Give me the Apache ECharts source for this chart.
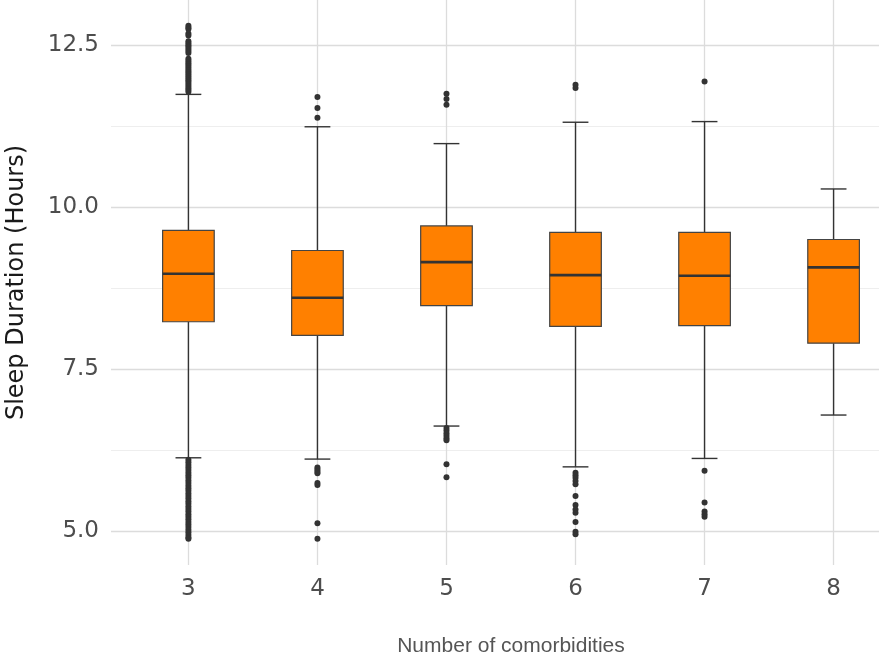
<!DOCTYPE html>
<html>
<head>
<meta charset="utf-8">
<script src="https://cdn.jsdelivr.net/npm/echarts@6/dist/echarts.min.js"></script>
<style>
html,body{margin:0;padding:0;background:#fff;}
#chart{width:879px;height:659px;}
</style>
</head>
<body>
<div id="chart"></div>
<script>
// ---- data ----
const categories = [3, 4, 5, 6, 7, 8];
const whiskerLow  = [6.13, 6.11, 6.62, 5.99, 6.12, 6.79];
const q1          = [8.23, 8.02, 8.48, 8.16, 8.17, 7.90];
const median      = [8.97, 8.60, 9.15, 8.95, 8.94, 9.07];
const q3          = [9.64, 9.33, 9.71, 9.61, 9.61, 9.50];
const whiskerHigh = [11.74, 11.24, 10.98, 11.31, 11.32, 10.28];

const outliers3 = [12.80, 12.77, 12.75, 12.68, 12.65, 12.56, 12.53, 12.50, 12.47, 12.44, 12.41, 12.38,
  12.29, 12.26, 12.23, 12.20, 12.17, 12.14, 12.11, 12.08, 12.05, 12.02, 11.99, 11.96, 11.93, 11.90,
  11.87, 11.84, 11.81, 11.78,
  6.10, 6.06, 6.02, 5.98, 5.94, 5.90, 5.86, 5.82, 5.78, 5.74, 5.70, 5.66, 5.62, 5.58, 5.54, 5.50,
  5.46, 5.42, 5.38, 5.34, 5.30, 5.26, 5.22, 5.18, 5.14, 5.10, 5.06, 5.02, 4.98, 4.94, 4.90, 4.88];
const outliers4 = [11.70, 11.53, 11.38, 5.98, 5.95, 5.92, 5.89, 5.74, 5.71, 5.12, 4.88];
const outliers5 = [11.75, 11.67, 11.58, 6.59, 6.55, 6.51, 6.47, 6.43, 6.40, 6.03, 5.83];
const outliers6 = [11.89, 11.84, 5.90, 5.86, 5.82, 5.77, 5.72, 5.54, 5.40, 5.33, 5.28, 5.14, 4.99, 4.95];
const outliers7 = [11.94, 5.93, 5.44, 5.30, 5.26, 5.22];
const outliers8 = [];

const yMajorTicks = [5, 7.5, 10, 12.5];
const yMinorTicks = [6.25, 8.75, 11.25];

// ---- build options ----
const boxData = categories.map((c, i) => [c, whiskerLow[i], q1[i], median[i], q3[i], whiskerHigh[i]]);
const outlierLists = [outliers3, outliers4, outliers5, outliers6, outliers7, outliers8];
const outlierData = [];
outlierLists.forEach((list, i) => list.forEach(v => outlierData.push([categories[i], v])));

const lineCol = '#333333';
const chart = echarts.init(document.getElementById('chart'), null, {renderer: 'canvas'});
const yRange = {min: 4.475, max: 13.197};

chart.setOption({
  backgroundColor: '#ffffff',
  animation: false,
  grid: {left: 111, top: 0, width: 800, height: 565, containLabel: false, outerBoundsMode: 'none'},
  xAxis: {
    type: 'value', min: 2.4, max: 8.6,
    axisLine: {show: false}, 
    axisTick: {show: false, customValues: categories},
    axisLabel: {customValues: categories, color: '#4d4d4d', fontFamily: 'DejaVu Sans', fontSize: 23, margin: 13,
      formatter: v => String(v)},
    splitLine: {show: true, lineStyle: {color: '#dcdcdc', width: 1.3}},
    name: 'Number of comorbidities', nameLocation: 'middle', nameGap: 71,
    nameTextStyle: {color: '#555555', fontFamily: 'Liberation Sans', fontSize: 21}
  },
  yAxis: [{
    type: 'value', min: yRange.min, max: yRange.max,
    axisLine: {show: false},
    axisTick: {show: false, customValues: yMajorTicks},
    axisLabel: {customValues: yMajorTicks, color: '#4d4d4d', fontFamily: 'DejaVu Sans', fontSize: 23, margin: 12,
      formatter: v => v.toFixed(1)},
    splitLine: {show: true, lineStyle: {color: '#dcdcdc', width: 1.3}},
    name: 'Sleep Duration (Hours)', nameLocation: 'middle', nameGap: 82,
    nameTextStyle: {color: '#1a1a1a', fontFamily: 'DejaVu Sans', fontSize: 24}
  }, {
    type: 'value', min: yRange.min, max: yRange.max, position: 'left',
    axisLine: {show: false},
    axisTick: {show: false, customValues: yMinorTicks},
    axisLabel: {show: false, customValues: yMinorTicks},
    splitLine: {show: true, lineStyle: {color: '#eeeeee', width: 1.1}}
  }],
  series: [{
    type: 'custom',
    data: boxData,
    encode: {x: 0, y: [1, 2, 3, 4, 5]},
    z: 3,
    renderItem: function (params, api) {
      const x = api.value(0);
      const pLo = api.coord([x, api.value(1)]);
      const pQ1 = api.coord([x, api.value(2)]);
      const pMed = api.coord([x, api.value(3)]);
      const pQ3 = api.coord([x, api.value(4)]);
      const pHi = api.coord([x, api.value(5)]);
      const bw = api.size([0.4, 0])[0];
      const cw = api.size([0.2, 0])[0];
      const cx = pMed[0];
      const ls = {stroke: lineCol, lineWidth: 1.4};
      return {
        type: 'group',
        children: [
          {type: 'line', shape: {x1: cx, y1: pHi[1], x2: cx, y2: pQ3[1]}, style: ls},
          {type: 'line', shape: {x1: cx, y1: pLo[1], x2: cx, y2: pQ1[1]}, style: ls},
          {type: 'line', shape: {x1: cx - cw / 2, y1: pHi[1], x2: cx + cw / 2, y2: pHi[1]}, style: ls},
          {type: 'line', shape: {x1: cx - cw / 2, y1: pLo[1], x2: cx + cw / 2, y2: pLo[1]}, style: ls},
          {type: 'rect', shape: {x: cx - bw / 2, y: pQ3[1], width: bw, height: pQ1[1] - pQ3[1]},
            style: {fill: '#ff8000', stroke: '#444444', lineWidth: 1.2}},
          {type: 'line', shape: {x1: cx - bw / 2, y1: pMed[1], x2: cx + bw / 2, y2: pMed[1]},
            style: {stroke: lineCol, lineWidth: 2.6}}
        ]
      };
    }
  }, {
    type: 'scatter',
    data: outlierData,
    symbol: 'circle',
    symbolSize: 6,
    z: 2,
    itemStyle: {color: '#333333', opacity: 1}
  }]
});
</script>
</body>
</html>
